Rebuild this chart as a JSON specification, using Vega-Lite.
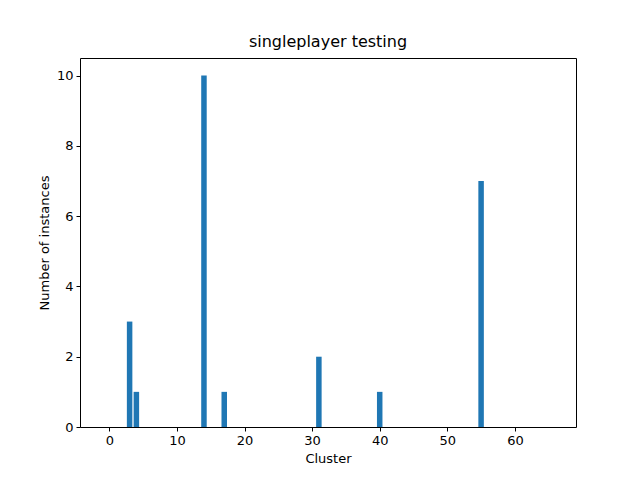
{
  "$schema": "https://vega.github.io/schema/vega-lite/v6.json",
  "width": 496,
  "height": 369,
  "autosize": {"type": "none"},
  "padding": {"left": 80, "top": 58, "right": 64, "bottom": 53},
  "background": "white",
  "title": {"text": "singleplayer testing", "font": "DejaVu Sans", "fontSize": 16, "fontWeight": "normal", "color": "black", "offset": 8},
  "data": {
    "values": [
      {"cluster": 3, "count": 3},
      {"cluster": 4, "count": 1},
      {"cluster": 14, "count": 10},
      {"cluster": 17, "count": 1},
      {"cluster": 31, "count": 2},
      {"cluster": 40, "count": 1},
      {"cluster": 55, "count": 7}
    ]
  },
  "mark": {"type": "bar", "size": 5.5, "color": "#1f77b4"},
  "encoding": {
    "x": {
      "field": "cluster", "type": "quantitative", "title": "Cluster",
      "scale": {"domain": [-3.6, 68.3], "nice": false, "zero": false},
      "axis": {"values": [0, 10, 20, 30, 40, 50, 60], "grid": false}
    },
    "y": {
      "field": "count", "type": "quantitative", "title": "Number of instances",
      "scale": {"domain": [0, 10.5], "nice": false},
      "axis": {"values": [0, 2, 4, 6, 8, 10], "grid": false}
    }
  },
  "config": {
    "view": {"stroke": "black", "strokeWidth": 1},
    "axis": {
      "domain": false, "tickColor": "black", "tickSize": 4, "tickWidth": 1,
      "labelFont": "DejaVu Sans", "labelFontSize": 13, "labelColor": "black", "labelPadding": 3,
      "titleFont": "DejaVu Sans", "titleFontSize": 13, "titleFontWeight": "normal", "titleColor": "black", "titlePadding": 5
    }
  }
}
